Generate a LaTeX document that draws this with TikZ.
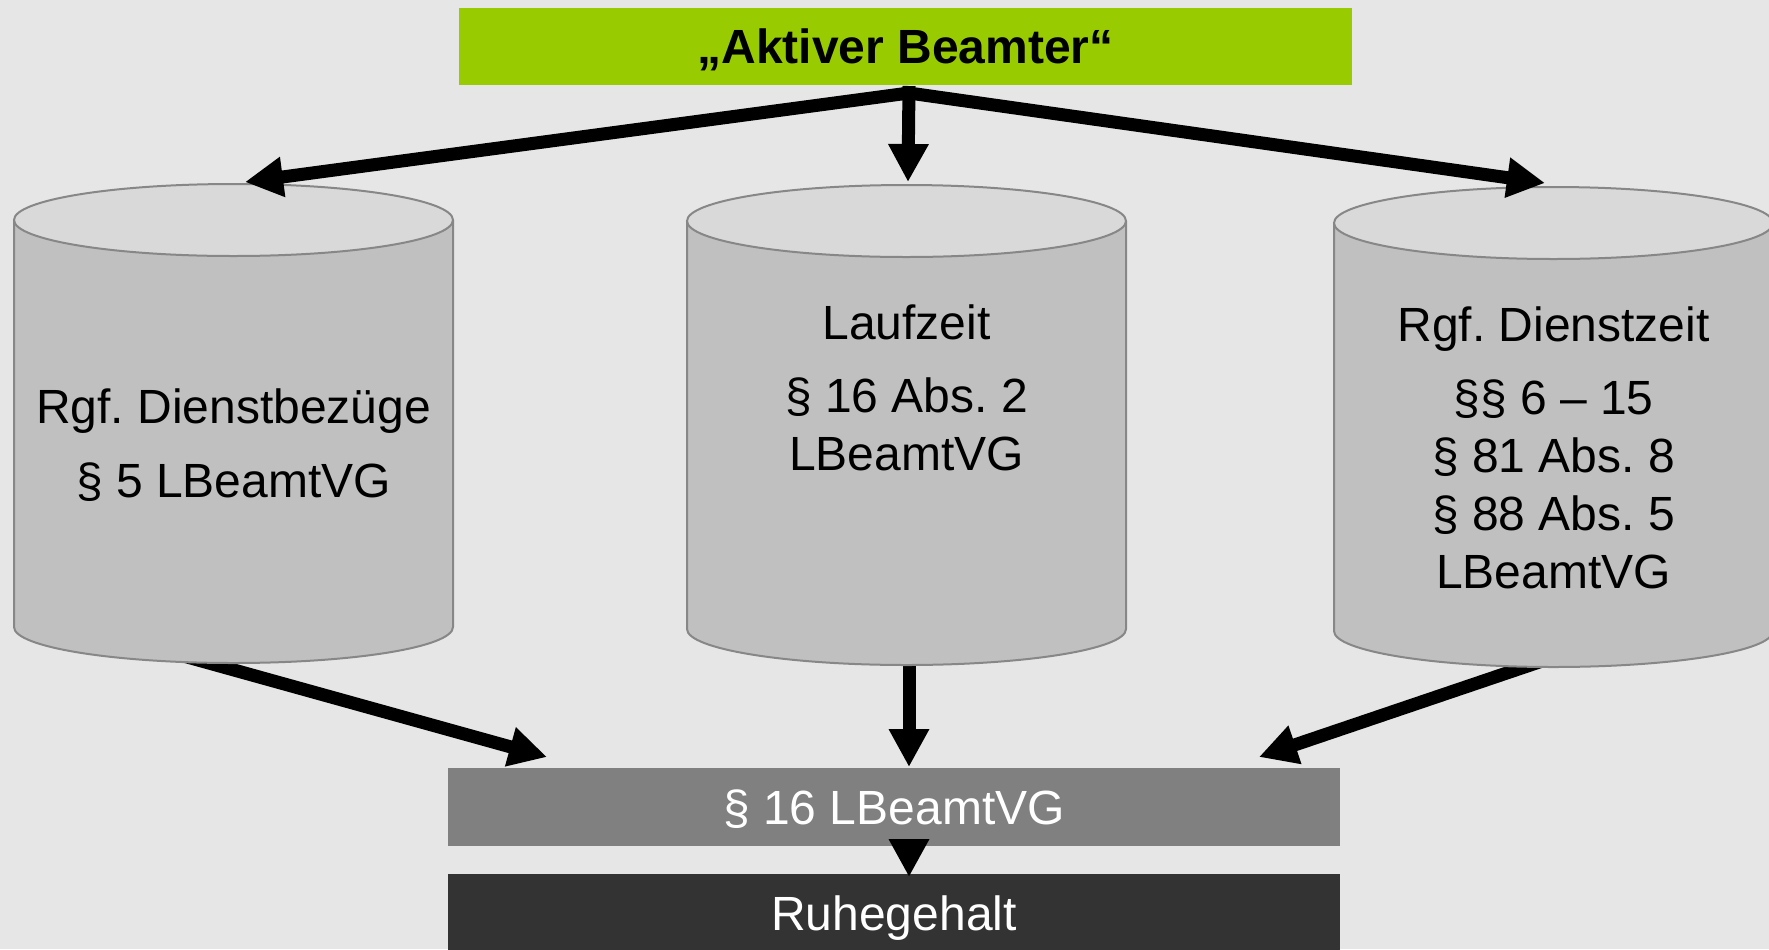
\documentclass[tikz,border=0pt]{standalone}
\usepackage{fontspec}
\setmainfont{Liberation Sans}
\usetikzlibrary{arrows.meta}
\definecolor{bg}{RGB}{231,230,230}
\definecolor{lime}{RGB}{153,204,0}
\definecolor{cylbody}{RGB}{192,192,192}
\definecolor{cyltop}{RGB}{217,217,217}
\definecolor{cylline}{RGB}{135,135,135}
\definecolor{midgrey}{RGB}{128,128,128}
\definecolor{darkgrey}{RGB}{51,51,51}
\frenchspacing
\begin{document}
\begin{tikzpicture}[x=0.5pt,y=-0.5pt,
  txt/.style={font=\fontsize{24}{29}\selectfont},
  bar/.style={rectangle, inner sep=0pt, minimum width=446pt, minimum height=39pt, text height=17.2pt, text depth=0pt, txt},
  arr/.style={line width=6.5pt, -{Triangle[length=19pt,width=19pt]}},
  cylside/.style={fill=cylbody},
  cylout/.style={draw=cylline, line width=1pt},
  cylcap/.style={fill=cyltop, draw=cylline, line width=1pt},
  cyltext/.style={txt, align=center}]
\useasboundingbox (0,0) rectangle (1769,949);
\fill[bg] (0,0) rectangle (1769,949);

% title
\node[bar, fill=lime, font=\fontsize{24}{29}\selectfont\bfseries, minimum width=446.5pt, minimum height=38.5pt] (title) at (905.5,46.5) {„Aktiver Beamter“};

% arrow end points
\coordinate (src) at (909,93);
\coordinate (srcC) at (909,86);
\coordinate (tipL) at (245,182);
\coordinate (tipC) at (908,182);
\coordinate (tipR) at (1545,183);
\coordinate (bL1) at (171,652.5);
\coordinate (bL2) at (547,757);
\coordinate (bC1) at (909,640);
\coordinate (bC2) at (909,767);
\coordinate (bR1) at (1554,657);
\coordinate (bR2) at (1259,757);
\coordinate (lawS) at (909,845);
\coordinate (penN) at (909,877);

% arrows leaving the cylinders (drawn underneath them)
\draw[arr] (bL1) -- (bL2);
\draw[arr] (bC1) -- (bC2);
\draw[arr] (bR1) -- (bR2);

% cylinders
% left
\fill[cylside] (14,220) -- (14,627) arc[start angle=180,end angle=0,x radius=219.5,y radius=36] -- (453,220) -- cycle;
\draw[cylout] (14,220) -- (14,627) arc[start angle=180,end angle=0,x radius=219.5,y radius=36] -- (453,220);
\filldraw[cylcap] (233.5,220) ellipse[x radius=219.5,y radius=36];
% centre
\fill[cylside] (687,221) -- (687,629) arc[start angle=180,end angle=0,x radius=219.5,y radius=36] -- (1126,221) -- cycle;
\draw[cylout] (687,221) -- (687,629) arc[start angle=180,end angle=0,x radius=219.5,y radius=36] -- (1126,221);
\filldraw[cylcap] (906.5,221) ellipse[x radius=219.5,y radius=36];
% right
\fill[cylside] (1334,223) -- (1334,631) arc[start angle=180,end angle=0,x radius=219.5,y radius=36] -- (1773,223) -- cycle;
\draw[cylout] (1334,223) -- (1334,631) arc[start angle=180,end angle=0,x radius=219.5,y radius=36] -- (1773,223);
\filldraw[cylcap] (1553.5,223) ellipse[x radius=219.5,y radius=36];

\node[cyltext] (t1) at (233.5,445) {Rgf. Dienstbezüge\\[8pt]§ 5 LBeamtVG};
\node[cyltext] (t2) at (906.5,388) {Laufzeit\\[7.5pt]§ 16 Abs. 2\\LBeamtVG};
\node[cyltext] (t3) at (1553.5,448) {Rgf. Dienstzeit\\[7.5pt]§§ 6 – 15\\§ 81 Abs. 8\\§ 88 Abs. 5\\LBeamtVG};

% bottom boxes
\node[bar, fill=midgrey, text=white] (law) at (894,807) {§ 16 LBeamtVG};
\node[bar, fill=darkgrey, text=white] (pension) at (894,913) {Ruhegehalt};

% arrows from the title
\draw[arr] (src) -- (tipL);
\draw[arr] (src) -- (tipR);
\draw[arr] (srcC) -- (tipC);
\draw[arr] (lawS) -- (penN);
\end{tikzpicture}
\end{document}
